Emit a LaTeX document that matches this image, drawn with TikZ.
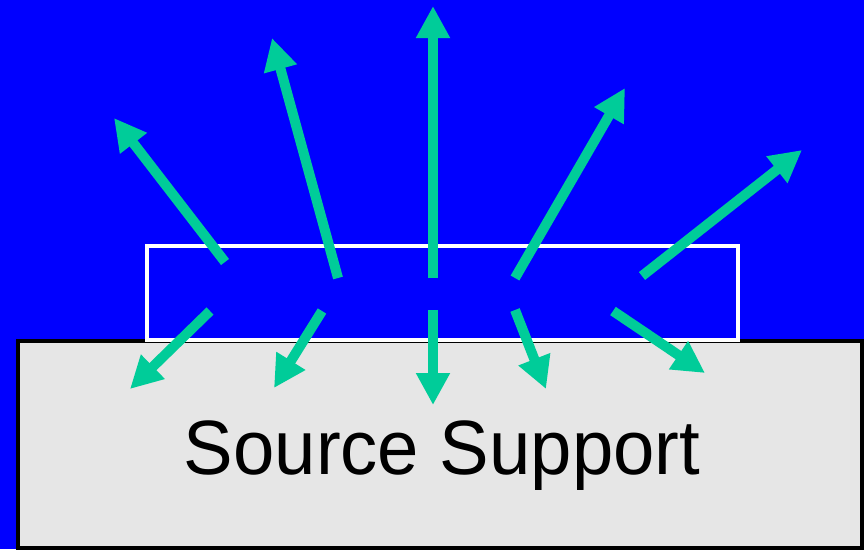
\documentclass[tikz,border=0pt]{standalone}
\usepackage{fontspec}
\setmainfont{Liberation Sans}
\usetikzlibrary{arrows.meta}
\definecolor{bgblue}{RGB}{0,0,255}
\definecolor{raygreen}{RGB}{0,204,153}
\definecolor{supportgray}{RGB}{230,230,230}
\tikzset{
  ray/.style={draw=raygreen, line width=10pt, -{Triangle[width=32pt,length=32pt]}},
  supportbox/.style={draw=black, fill=supportgray, line width=3.5pt},
  sourcebox/.style={draw=white, line width=4pt},
}
\begin{document}
\begin{tikzpicture}[x=1pt,y=-1pt]
\fill[bgblue] (0,0) rectangle (864,549);
\useasboundingbox (0,0) rectangle (864,549);
\draw[supportbox] (18,341) rectangle (862,548);
\draw[sourcebox] (147,246) rectangle (738,340);
\node[font=\fontsize{77}{80}\selectfont, anchor=base, xscale=0.965, inner sep=0pt] (label) at (442,474) {Source Support};
% ray starts
\coordinate (s1) at (225,262);
\coordinate (s2) at (338,278);
\coordinate (s3) at (433,278);
\coordinate (s4) at (515,278);
\coordinate (s5) at (642,276);
\coordinate (s6) at (210,311);
\coordinate (s7) at (322,311);
\coordinate (s8) at (433,310);
\coordinate (s9) at (515,310);
\coordinate (s10) at (613,311);
% ray tips
\coordinate (t1) at (114,118);
\coordinate (t2) at (272,38);
\coordinate (t3) at (433,6);
\coordinate (t4) at (625,88);
\coordinate (t5) at (802,150);
\coordinate (t6) at (130,389);
\coordinate (t7) at (274,388);
\coordinate (t8) at (433,405);
\coordinate (t9) at (546,389);
\coordinate (t10) at (705,373);
\foreach \i in {1,...,10}{\draw[ray] (s\i) -- (t\i);}
\end{tikzpicture}
\end{document}
